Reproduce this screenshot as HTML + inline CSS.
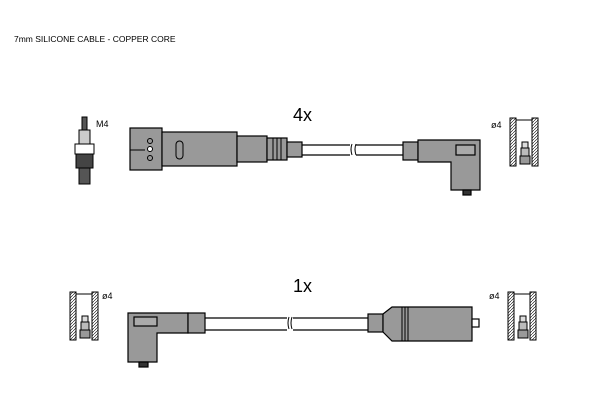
<!DOCTYPE html><html><head><style>body{margin:0;background:#fff}svg{display:block}text{font-family:"Liberation Sans",sans-serif}</style></head><body>
<svg width="600" height="400" viewBox="0 0 600 400">
<defs><pattern id="h" width="3" height="3" patternUnits="userSpaceOnUse"><path d="M0,3 L3,0" stroke="#000" stroke-width="0.6"/></pattern>
<g id="term">
<rect x="0" y="0" width="6" height="48" fill="url(#h)" stroke="#000" stroke-width="1"/>
<rect x="22" y="0" width="6" height="48" fill="url(#h)" stroke="#000" stroke-width="1"/>
<line x1="6" y1="2" x2="22" y2="2" stroke="#000"/>
<rect x="10" y="38" width="10" height="8" fill="#999" stroke="#000"/>
<rect x="11" y="30" width="8" height="8" fill="#bbb" stroke="#000"/>
<rect x="12" y="24" width="6" height="6" fill="#ddd" stroke="#000"/>
</g></defs>
<text x="14" y="42" font-size="8.5">7mm SILICONE CABLE - COPPER CORE</text>
<text x="293" y="121" font-size="18">4x</text>
<text x="293" y="292" font-size="18">1x</text>
<text x="96" y="127" font-size="9">M4</text>
<text x="491" y="128" font-size="9">ø4</text>
<text x="102" y="299" font-size="9">ø4</text>
<text x="489" y="299" font-size="9">ø4</text>
<!-- spark plug -->
<g stroke="#000" stroke-width="1">
<rect x="82" y="117" width="5" height="14" fill="#555"/>
<rect x="79" y="130" width="11" height="14" fill="#ccc"/>
<rect x="75" y="144" width="19" height="10" fill="#fff"/>
<rect x="76" y="154" width="17" height="14" fill="#444"/>
<rect x="79" y="168" width="11" height="16" fill="#555"/>
</g>
<!-- top boot -->
<g stroke="#000" stroke-width="1.2" fill="#999">
<rect x="130" y="128" width="32" height="42"/>
<rect x="162" y="132" width="75" height="34"/>
<rect x="237" y="136" width="30" height="26"/>
<rect x="267" y="138" width="20" height="22"/>
<rect x="287" y="142" width="15" height="15"/>
</g>
<line x1="130" y1="150" x2="145" y2="150" stroke="#000"/>
<circle cx="150" cy="141" r="2.5" fill="none" stroke="#000"/><circle cx="150" cy="149" r="2.5" fill="#fff" stroke="#000"/><circle cx="150" cy="158" r="2.5" fill="none" stroke="#000"/>
<rect x="176" y="141" width="7" height="18" rx="3.5" fill="none" stroke="#000"/>
<g stroke="#000"><line x1="273" y1="138" x2="273" y2="160"/><line x1="277" y1="138" x2="277" y2="160"/><line x1="281" y1="138" x2="281" y2="160"/></g>
<!-- top cable -->
<g stroke="#000" stroke-width="1.2"><line x1="302" y1="145" x2="403" y2="145"/><line x1="302" y1="155" x2="403" y2="155"/></g>
<rect x="350" y="143" width="6" height="14" fill="#fff"/>
<path d="M352,144 q-2,5 0,11 M356,144 q-2,5 0,11" stroke="#000" fill="none"/>
<!-- top right angle -->
<g stroke="#000" stroke-width="1.2" fill="#999">
<rect x="403" y="142" width="15" height="18"/>
<path d="M418,140 H480 V190 H451 V162 H418 Z"/>
<rect x="456" y="145" width="19" height="10" fill="#aaa"/>
<rect x="463" y="190" width="8" height="5" fill="#333"/>
</g>
<use href="#term" x="510" y="118"/>
<use href="#term" x="70" y="292"/>
<use href="#term" x="508" y="292"/>
<!-- bottom -->
<g stroke="#000" stroke-width="1.2" fill="#999">
<path d="M128,313 H188 V333 H157 V362 H128 Z"/>
<rect x="134" y="317" width="23" height="9" fill="#aaa"/>
<rect x="139" y="362" width="9" height="5" fill="#333"/>
<rect x="188" y="313" width="17" height="20"/>
<rect x="368" y="314" width="15" height="18"/>
<path d="M383,314 L392,307 H472 V341 H392 L383,332 Z"/>
<rect x="472" y="319" width="7" height="8" fill="#fff"/>
</g>
<g stroke="#000"><line x1="402" y1="307" x2="402" y2="341"/><line x1="405" y1="307" x2="405" y2="341"/><line x1="408" y1="307" x2="408" y2="341"/></g>
<g stroke="#000" stroke-width="1.2"><line x1="205" y1="318" x2="368" y2="318"/><line x1="205" y1="330" x2="368" y2="330"/></g>
<rect x="287" y="316" width="6" height="16" fill="#fff"/>
<path d="M289,317 q-2,6 0,12 M292,317 q-2,6 0,12" stroke="#000" fill="none"/>
</svg></body></html>
